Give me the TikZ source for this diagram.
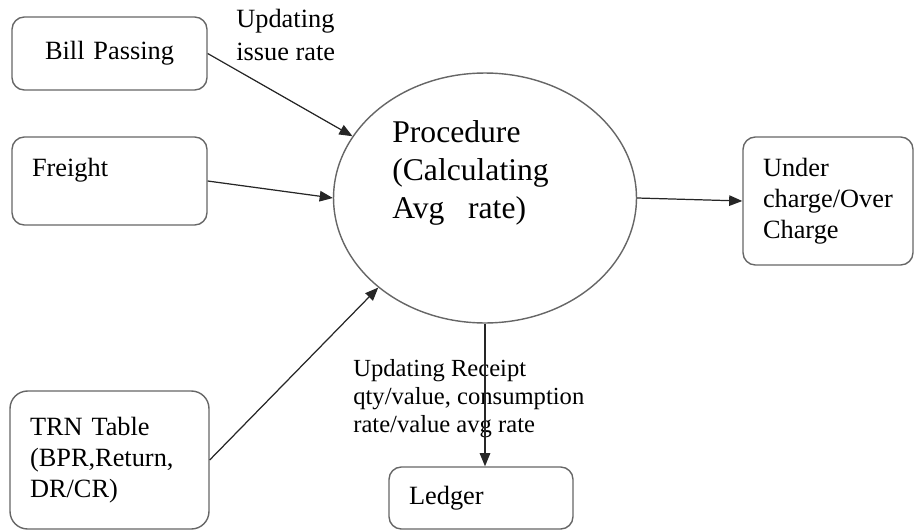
\documentclass[tikz,border=0pt]{standalone}
\usepackage{fontspec}
\setmainfont{Liberation Serif}
\usetikzlibrary{shapes.geometric}
\usetikzlibrary{arrows.meta}

\begin{document}
\begin{tikzpicture}[x=0.02cm, y=-0.02cm,
    box/.style={draw=black!60, line width=0.8pt, rounded corners=7pt,
      align=left, inner xsep=0.4cm, font=\fontsize{15}{17.5}\selectfont},
    txt/.style={align=left, inner sep=0pt},
    flow/.style={-{Triangle[length=7.5pt,width=6pt]}, line width=0.7pt, color=black!85}]

    \useasboundingbox (0,0) rectangle (916,531);

    % sources on the left
    \node[box, align=center, text width=3.1cm, minimum height=1.46cm] (bill) at (109.5,53.5) {Bill Passing};
    \node[box, text width=3.1cm, minimum height=1.76cm, text depth=16pt] (freight) at (109.5,181) {Freight};
    \node[box, text width=3.18cm, minimum height=2.76cm, rounded corners=10pt] (trn) at (109.5,460) {TRN Table\\(BPR,Return,\\DR/CR)};

    % the procedure
    \node[draw=black!60, line width=0.8pt, ellipse, minimum width=6.06cm, minimum height=5cm] (proc) at (485,198) {};
    \node[txt, anchor=west, font=\fontsize{18}{21.5}\selectfont] (proclbl) at (392,173) {Procedure\\(Calculating\\Avg~~~rate)};

    % outputs
    \node[box, text width=2.6cm, minimum height=2.56cm] (under) at (828,201) {Under\\charge/Over\\Charge};
    \node[box, text width=2.88cm, minimum height=1.24cm] (ledger) at (481,498) {Ledger};

    \node[txt, anchor=west, font=\fontsize{15}{19}\selectfont] (issue) at (236,35) {Updating\\issue rate};
    \node[txt, anchor=west, font=\fontsize{14}{16}\selectfont] (receipt) at (353,399) {Updating Receipt\\qty/value, consumption\\rate/value avg rate};

    \draw[flow] (bill.east) -- (proc.155);
    \draw[flow] (freight.east) -- (proc.west);
    \draw[flow] (trn.east) -- (proc.220);
    \draw[flow] (proc.east) -- (under.west);
    \draw[flow] (proc.south) -- (proc.south |- ledger.north);

\end{tikzpicture}
\end{document}
